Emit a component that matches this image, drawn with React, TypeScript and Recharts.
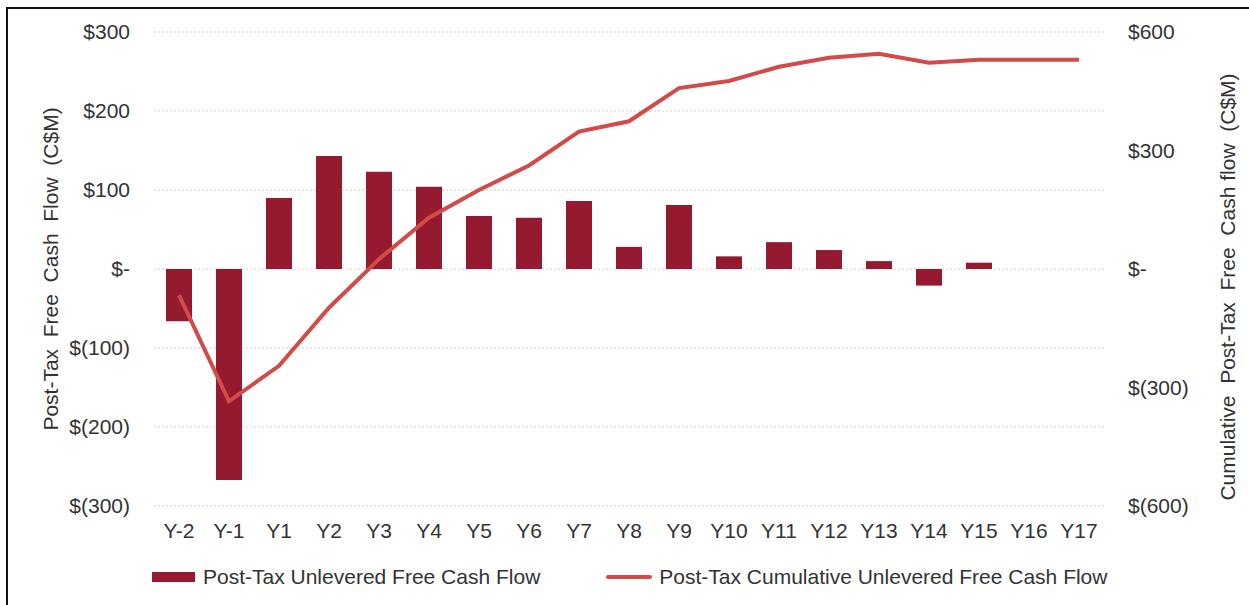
import React from 'react';
import { ComposedChart, Bar, Line, XAxis, YAxis, CartesianGrid, Legend } from 'recharts';

const years = ['Y-2', 'Y-1', 'Y1', 'Y2', 'Y3', 'Y4', 'Y5', 'Y6', 'Y7', 'Y8', 'Y9', 'Y10', 'Y11', 'Y12', 'Y13', 'Y14', 'Y15', 'Y16', 'Y17'];
const freeCashFlow = [-66, -267, 90, 143, 123, 104, 67, 65, 86, 28, 81, 16, 34, 24, 10, -21, 8, 0, 0];
const cumulativeCashFlow = [-66, -335, -245, -98, 25, 130, 200, 262, 348, 374, 458, 476, 512, 535, 545, 522, 530, 530, 530];
const leftTicks = [-300, -200, -100, 0, 100, 200, 300];
const rightTicks = [-600, -300, 0, 300, 600];

const BAR_COLOR = '#951a2f';
const LINE_COLOR = '#d24b48';
const TEXT_COLOR = '#333333';
const FONT = '"Liberation Sans", Arial, sans-serif';

const data = years.map((year, i) => ({
  year,
  fcf: freeCashFlow[i],
  cumulative: cumulativeCashFlow[i],
}));

const money = (v: number) => {
  if (v === 0) return '$-';
  if (v < 0) return `$(${Math.abs(v)})`;
  return `$${v}`;
};

const AxisTitle = ({ viewBox, text, dx, dy }: any) => {
  const cx = viewBox.x + dx;
  const cy = viewBox.y + viewBox.height / 2 + dy;
  return (
    <text
      x={cx}
      y={cy}
      transform={`rotate(-90, ${cx}, ${cy})`}
      textAnchor="middle"
      dominantBaseline="central"
      fill={TEXT_COLOR}
      fontSize={21}
      style={{ whiteSpace: 'pre' }}
    >
      {text}
    </text>
  );
};

const LegendBox = () => (
  <div style={{ height: 41, display: 'flex', alignItems: 'center', paddingLeft: 144, paddingTop: 1, fontSize: 21, color: TEXT_COLOR, fontFamily: FONT, boxSizing: 'border-box' }}>
    <span style={{ display: 'inline-block', width: 43, height: 10, background: BAR_COLOR, marginRight: 8 }} />
    <span style={{ marginRight: 66 }}>Post-Tax Unlevered Free Cash Flow</span>
    <span style={{ display: 'inline-block', width: 46, height: 4, background: LINE_COLOR, borderRadius: 2, marginRight: 7 }} />
    <span>Post-Tax Cumulative Unlevered Free Cash Flow</span>
  </div>
);

export default function App() {
  return (
    <div
      style={{
        position: 'absolute',
        left: 6,
        top: 7,
        width: 1243,
        height: 598,
        boxSizing: 'border-box',
        borderTop: '2px solid #111',
        borderLeft: '2px solid #111',
        background: '#fff',
      }}
    >
      <ComposedChart
        width={1241}
        height={596}
        data={data}
        margin={{ top: 23, right: 0, left: 0, bottom: 8 }}
        style={{ fontFamily: FONT }}
      >
        <CartesianGrid vertical={false} stroke="#cfcfcf" strokeDasharray="2 2" yAxisId="left" />
        <XAxis
          dataKey="year"
          height={50}
          axisLine={false}
          tickLine={false}
          tickSize={0}
          tickMargin={17}
          interval={0}
          tick={{ fontSize: 21, fill: TEXT_COLOR }}
        />
        <YAxis
          yAxisId="left"
          width={146}
          domain={[-300, 300]}
          ticks={leftTicks}
          tickFormatter={money}
          axisLine={false}
          tickLine={false}
          tickSize={0}
          tickMargin={24}
          tick={{ fontSize: 21, fill: TEXT_COLOR }}
          label={(props: any) => <AxisTitle {...props} text={'Post-Tax  Free  Cash  Flow  (C$M)'} dx={42} dy={0} />}
        />
        <YAxis
          yAxisId="right"
          orientation="right"
          width={145}
          domain={[-600, 600]}
          ticks={rightTicks}
          tickFormatter={money}
          axisLine={false}
          tickLine={false}
          tickSize={0}
          tickMargin={24}
          tick={{ fontSize: 21, fill: TEXT_COLOR, textAnchor: 'start' }}
          label={(props: any) => <AxisTitle {...props} text={'Cumulative  Post-Tax  Free  Cash flow  (C$M)'} dx={123} dy={18} />}
        />
        <Legend verticalAlign="bottom" height={41} content={() => <LegendBox />} />
        <Bar yAxisId="left" dataKey="fcf" name="Post-Tax Unlevered Free Cash Flow" fill={BAR_COLOR} barSize={26} isAnimationActive={false} />
        <Line
          yAxisId="right"
          type="linear"
          dataKey="cumulative"
          name="Post-Tax Cumulative Unlevered Free Cash Flow"
          stroke={LINE_COLOR}
          strokeWidth={4}
          dot={false}
          activeDot={false}
          isAnimationActive={false}
        />
      </ComposedChart>
    </div>
  );
}
